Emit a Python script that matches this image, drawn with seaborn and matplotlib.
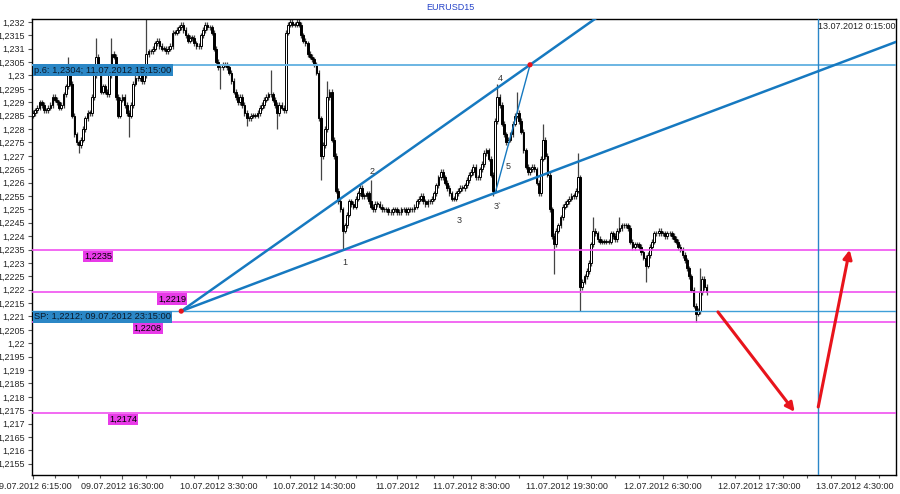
import numpy as np
import seaborn as sns
import matplotlib
matplotlib.use("Agg")
import matplotlib.pyplot as plt

# EURUSD M15, 09.07.2012 6:15 -> 12.07.2012 11:30, closes in pips above 1.2200
closes = [
    86, 87, 88, 90, 89, 87, 87, 88, 89, 92,
    91, 90, 88, 89, 93, 96, 101, 97, 85, 78,
    75, 74, 76, 80, 84, 86, 86, 92, 100, 107,
    103, 94, 96, 94, 93, 100, 108, 107, 92, 85,
    91, 92, 89, 86, 85, 89, 97, 99, 99, 100,
    98, 100, 108, 109, 109, 110, 112, 113, 111, 110,
    110, 109, 110, 111, 116, 116, 117, 118, 119, 117,
    115, 113, 114, 114, 112, 111, 111, 115, 117, 119,
    118, 118, 116, 110, 105, 103, 103, 104, 104, 103,
    101, 98, 94, 92, 90, 92, 89, 86, 84, 84,
    85, 85, 85, 86, 88, 89, 91, 92, 93, 93,
    91, 89, 86, 89, 88, 87, 116, 119, 120, 119,
    119, 120, 119, 115, 113, 112, 108, 107, 106, 104,
    101, 84, 70, 74, 80, 92, 94, 76, 70, 57,
    53, 50, 42, 44, 48, 53, 52, 51, 54, 56,
    58, 55, 55, 56, 53, 51, 50, 52, 52, 51,
    50, 50, 50, 49, 49, 50, 50, 49, 49, 50,
    50, 49, 50, 50, 50, 51, 53, 54, 55, 53,
    52, 53, 53, 54, 56, 59, 62, 64, 62, 60,
    58, 56, 54, 54, 56, 57, 58, 58, 59, 61,
    63, 64, 66, 62, 62, 65, 67, 71, 72, 69,
    63, 57, 83, 92, 89, 82, 78, 75, 76, 78,
    82, 85, 86, 83, 79, 72, 66, 64, 65, 66,
    65, 60, 56, 69, 76, 70, 63, 50, 40, 37,
    42, 44, 47, 51, 52, 53, 54, 55, 55, 57,
    62, 21, 23, 25, 27, 30, 37, 42, 41, 39,
    38, 38, 38, 38, 38, 41, 40, 39, 42, 43,
    44, 44, 44, 43, 38, 36, 37, 37, 36, 34,
    32, 29, 33, 36, 38, 41, 41, 42, 41, 41,
    40, 41, 41, 40, 39, 38, 36, 35, 33, 31,
    28, 25, 20, 14, 11, 12, 19, 24, 21, 19,
]
first_open = 85
# long wicks (bar index -> pips)
spike_high = {16: 107, 29: 114, 36: 114, 52: 122, 109: 102, 135: 98, 155: 61,
              213: 97, 222: 94, 234: 82, 250: 71, 257: 47, 269: 47, 306: 28}
spike_low = {21: 71, 44: 77, 86: 95, 98: 81, 112: 80, 132: 61, 142: 35,
             211: 55, 239: 26, 251: 12, 281: 23, 304: 8}

# levels (magenta) and their label x (hours from 09.07 0:00)
levels = [1.2235, 1.2219, 1.2208, 1.2174]
level_labels = ["1,2235", "1,2219", "1,2208", "1,2174"]
level_label_x = [12.1, 20.6, 17.8, 15.0]

# construction points
sp_point = (23.25, 1.2212)       # 09.07.2012 23:15
p6_point = (63.25, 1.2304)       # 11.07.2012 15:15
wave1_point = (42.0, 1.2235)
wave3b_point = (59.25, 1.2256)
vline_time = 96.25               # 13.07.2012 0:15

wave_names = ["1", "2", "3", "3`", "4", "5"]
wave_x = [42.0, 45.1, 55.1, 59.5, 59.8, 60.7]
wave_y = [1.2230, 1.2264, 1.22457, 1.22509, 1.22987, 1.22659]

arrow_starts = [(84.8, 1.22117), (96.3, 1.21762)]
arrow_ends = [(93.6, 1.21744), (99.9, 1.22349)]

xtick_pos = [6.25, 16.5, 27.5, 38.5, 48, 56.5, 67.5, 78.5, 89.5, 100.5]
xtick_labels = ["09.07.2012 6:15:00", "09.07.2012 16:30:00", "10.07.2012 3:30:00",
                "10.07.2012 14:30:00", "11.07.2012", "11.07.2012 8:30:00",
                "11.07.2012 19:30:00", "12.07.2012 6:30:00", "12.07.2012 17:30:00",
                "13.07.2012 4:30:00"]

sns.set_theme(style="white")
plt.rcParams['font.family'] = ['Liberation Sans', 'DejaVu Sans']

fig = plt.figure(figsize=(9, 4.94), dpi=100)
ax = fig.add_axes([32 / 900, 1 - 475 / 494, 864 / 900, 456 / 494])

# candles
n = len(closes)
t = 6.25 + 0.25 * np.arange(n)
c = 1.22 + np.array(closes) / 1e4
o = np.r_[1.22 + first_open / 1e4, c[:-1]]
hi = np.maximum(o, c) + 0.0001
lo = np.minimum(o, c) - 0.0001
for k, v in spike_high.items():
    hi[k] = 1.22 + v / 1e4
for k, v in spike_low.items():
    lo[k] = 1.22 + v / 1e4

ax.vlines(t, lo, hi, color="#444444", lw=0.9, zorder=2)
up = c >= o
height = np.maximum(np.abs(c - o), 0.00002)
bottom = np.minimum(o, c)
ax.bar(t[up], height[up], bottom=bottom[up], width=0.2, color="white",
       edgecolor="black", lw=0.7, zorder=3)
ax.bar(t[~up], height[~up], bottom=bottom[~up], width=0.2, color="black",
       edgecolor="black", lw=0.7, zorder=3)

xmin, xmax = 6.135, 105.22
ymin, ymax = 1.21508, 1.23211

# horizontal levels
for lv, lab, lx in zip(levels, level_labels, level_label_x):
    ax.axhline(lv, color="#f050f0", lw=1.2, zorder=4)
    ax.text(lx, lv - 0.00008, lab, fontsize=6.6, color="black", va="top", ha="left",
            bbox=dict(facecolor="#e83ae8", edgecolor="none", pad=0.8), zorder=6)

ax.axhline(p6_point[1], color="#6bb6e3", lw=1.4, zorder=4)
ax.axhline(sp_point[1], color="#3f9fd8", lw=1.0, zorder=4)
ax.axvline(vline_time, color="#2a86c8", lw=1.0, zorder=4)

# trend lines from SP
for pt in [p6_point, wave1_point]:
    slope = (pt[1] - sp_point[1]) / (pt[0] - sp_point[0])
    xs = [sp_point[0], xmax + 5]
    ys = [sp_point[1], sp_point[1] + slope * (xmax + 5 - sp_point[0])]
    sns.lineplot(x=xs, y=ys, ax=ax, color="#1679c0", lw=1.8, zorder=5,
                 sort=False, legend=False)
sns.lineplot(x=[wave3b_point[0], p6_point[0]], y=[wave3b_point[1], p6_point[1]],
             ax=ax, color="#1679c0", lw=1.0, zorder=5, sort=False, legend=False)
sns.scatterplot(x=[sp_point[0], p6_point[0]], y=[sp_point[1], p6_point[1]], ax=ax,
                color="#e8141c", s=14, edgecolor="none", zorder=7, legend=False)

# info boxes
ax.text(6.36, p6_point[1] - 0.00004, "p.6: 1,2304; 11.07.2012 15:15:00", fontsize=6.7,
        color="#0b1a2a", va="top", ha="left",
        bbox=dict(facecolor="#2b87c6", edgecolor="none", pad=1.0), zorder=6)
ax.text(6.36, sp_point[1] - 0.00004, "SP: 1,2212; 09.07.2012 23:15:00", fontsize=6.7,
        color="#0b1a2a", va="top", ha="left",
        bbox=dict(facecolor="#2b87c6", edgecolor="none", pad=1.0), zorder=6)
ax.text(vline_time + 0.05, ymax - 0.0001, "13.07.2012 0:15:00", fontsize=6.5,
        color="#222222", va="top", ha="left", zorder=6)

for name, wx, wy in zip(wave_names, wave_x, wave_y):
    ax.text(wx, wy, name, fontsize=6.5, color="#333333", ha="center", va="center", zorder=6)

for s, e in zip(arrow_starts, arrow_ends):
    ax.annotate("", xy=e, xytext=s, zorder=8,
                arrowprops=dict(arrowstyle="-|>", color="#e8141c", lw=2.2,
                                mutation_scale=13, shrinkA=0, shrinkB=0))

ax.set_xlim(xmin, xmax)
ax.set_ylim(ymin, ymax)

yt = np.round(np.arange(1.2155, 1.23201, 0.0005), 4)
ax.set_yticks(yt)
ax.set_yticklabels([f"{v:.4f}".rstrip("0").rstrip(".").replace(".", ",") for v in yt])
ax.set_xticks(xtick_pos)
ax.set_xticklabels(xtick_labels)
minor = []
for a, b in zip(xtick_pos[:-1], xtick_pos[1:]):
    minor += list(np.linspace(a, b, 5)[1:-1])
minor += list(np.arange(xtick_pos[-1], xmax, (xtick_pos[-1] - xtick_pos[-2]) / 4)[1:])
ax.set_xticks(minor, minor=True)

ax.tick_params(axis="both", which="major", labelsize=6.5, length=3, width=0.8,
               direction="out", color="#555555", pad=2, left=True, bottom=True)
ax.tick_params(axis="x", which="minor", length=2, width=0.8, color="#555555", bottom=True)
for sp in ax.spines.values():
    sp.set_color("black")
    sp.set_linewidth(1.0)
ax.set_xlabel("")
ax.set_ylabel("")

fig.text(450 / 900, 1 - 8 / 494, "EURUSD15", fontsize=6.5, color="#2442c8",
         ha="center", va="center")

fig.savefig("out.png", dpi=100, facecolor="white")
